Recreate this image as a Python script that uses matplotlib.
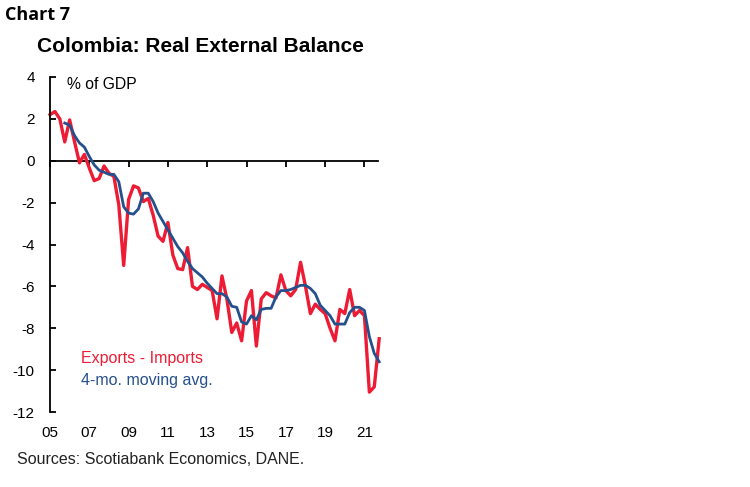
"""
plot.py

Colombia: real external balance (exports - imports, % of GDP), quarterly,
with the 4-period moving average.

Output:
  out.png
"""

import matplotlib.pyplot as plt
import numpy as np
import pandas as pd


# quarterly, 2005Q1 .. 2021Q4
START_QUARTER = "2005Q1"

BALANCE = [
    2.2, 2.35, 2.0, 0.9, 1.95, 0.9, -0.1, 0.3,
    -0.35, -0.95, -0.85, -0.25, -0.6, -0.75, -2.1, -5.0,
    -1.85, -1.2, -1.3, -1.95, -1.8, -2.6, -3.6, -3.85,
    -2.95, -4.5, -5.15, -5.2, -4.15, -6.0, -6.15, -5.9,
    -6.05, -6.2, -7.55, -5.5, -6.6, -8.2, -7.75, -8.6,
    -6.7, -6.2, -8.85, -6.6, -6.3, -6.45, -6.55, -5.45,
    -6.2, -6.45, -6.15, -4.85, -6.0, -7.3, -6.85, -7.1,
    -7.3, -8.0, -8.6, -7.1, -7.3, -6.15, -7.4, -7.15,
    -7.4, -11.05, -10.8, -8.5,
]

MOVING_AVG = [
    np.nan, np.nan, np.nan, 1.8, 1.7, 1.2, 0.85, 0.65,
    0.2, -0.2, -0.45, -0.55, -0.65, -0.65, -1.0, -2.2,
    -2.5, -2.55, -2.3, -1.55, -1.55, -1.95, -2.5, -2.9,
    -3.3, -3.7, -4.1, -4.4, -4.8, -5.15, -5.35, -5.55,
    -5.85, -6.1, -6.35, -6.35, -6.5, -6.95, -7.0, -7.7,
    -7.8, -7.4, -7.6, -7.1, -7.05, -7.05, -6.5, -6.2,
    -6.2, -6.15, -6.05, -5.95, -5.95, -6.1, -6.35, -6.9,
    -7.15, -7.4, -7.8, -7.8, -7.8, -7.25, -7.0, -7.0,
    -7.15, -8.4, -9.2, -9.6,
]

YEAR_TICKS = [2005, 2007, 2009, 2011, 2013, 2015, 2017, 2019, 2021]
YEAR_LABELS = ["05", "07", "09", "11", "13", "15", "17", "19", "21"]
Y_TICKS = [4, 2, 0, -2, -4, -6, -8, -10, -12]

RED = "#ED1C34"
BLUE = "#24508C"
FONT = ["Liberation Sans", "DejaVu Sans"]


def main() -> None:
    periods = pd.period_range(START_QUARTER, periods=len(BALANCE), freq="Q")
    x = periods.year + (periods.quarter - 1) / 4.0

    plt.rcParams["font.family"] = FONT

    fig = plt.figure(figsize=(7.5, 4.87), dpi=100)
    ax = fig.add_axes([50 / 750, 1 - 412 / 487, 328 / 750, 335 / 487])

    ax.plot(x, BALANCE, color=RED, linewidth=2.4,
            solid_joinstyle="round", clip_on=False)
    ax.plot(x, MOVING_AVG, color=BLUE, linewidth=2.0,
            solid_joinstyle="round", clip_on=False)

    ax.set_xlim(2005, 2021.69)
    ax.set_ylim(-12, 4)

    for side in ("top", "right"):
        ax.spines[side].set_visible(False)
    ax.spines["left"].set_linewidth(1.3)
    ax.spines["bottom"].set_position(("data", 0))
    ax.spines["bottom"].set_linewidth(1.3)
    ax.spines["bottom"].set_zorder(0.5)

    ax.set_yticks(Y_TICKS)
    ax.set_yticklabels([str(v) for v in Y_TICKS])
    ax.tick_params(axis="y", direction="in", length=4, width=1.3,
                   pad=11, labelsize=11, colors="black")
    ax.set_xticks(YEAR_TICKS)
    ax.tick_params(axis="x", direction="out", length=4, width=1.3,
                   labelbottom=False)

    sec = ax.secondary_xaxis("bottom")
    sec.set_xticks(YEAR_TICKS)
    sec.set_xticklabels(YEAR_LABELS)
    sec.tick_params(length=0, pad=10, labelsize=11)
    sec.spines["bottom"].set_visible(False)

    ax.text(0.052, 0.979, "% of GDP", transform=ax.transAxes,
            fontsize=11.3, ha="left", va="center")
    ax.text(0.095, 0.16, "Exports - Imports", transform=ax.transAxes,
            fontsize=11.5, color=RED, ha="left", va="center")
    ax.text(0.095, 0.095, "4-mo. moving avg.", transform=ax.transAxes,
            fontsize=11.5, color=BLUE, ha="left", va="center")

    fig.text(5 / 750, 1 - 15 / 487, "Chart 7", fontsize=13,
             fontweight="bold", family=["Open Sans", "DejaVu Sans"],
             ha="left", va="center")
    fig.text(200 / 750, 1 - 47 / 487, "Colombia: Real External Balance",
             fontsize=15, fontweight="bold", ha="center", va="center")
    fig.text(17 / 750, 1 - 460 / 487, "Sources: Scotiabank Economics, DANE.",
             fontsize=11.5, color="#222222", ha="left", va="center")

    fig.savefig("out.png", dpi=100)
    plt.close(fig)


if __name__ == "__main__":
    main()
